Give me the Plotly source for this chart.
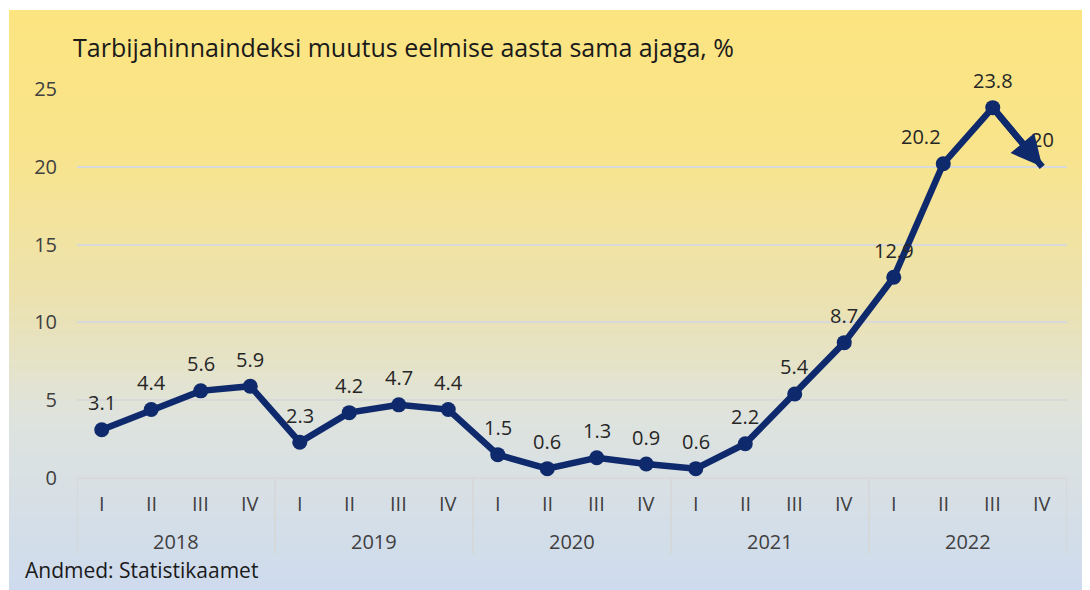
import plotly.graph_objects as go

years = ["2018", "2019", "2020", "2021", "2022"]
quarters = ["I", "II", "III", "IV"]
values = [3.1, 4.4, 5.6, 5.9, 2.3, 4.2, 4.7, 4.4, 1.5, 0.6, 1.3, 0.9,
          0.6, 2.2, 5.4, 8.7, 12.9, 20.2, 23.8, 20]
labels = ["3.1", "4.4", "5.6", "5.9", "2.3", "4.2", "4.7", "4.4", "1.5", "0.6",
          "1.3", "0.9", "0.6", "2.2", "5.4", "8.7", "12.9", "20.2", "23.8", "20"]
y_ticks = [0, 5, 10, 15, 20, 25]

x_cat = [f"{y} {q}" for y in years for q in quarters]
x_q = [q for _ in years for q in quarters]

OFF = 8  # page body margin in the viewer
W, H = 1090 - OFF, 590 - OFF
# plot area in reference (window) pixels
L, R, T, B = 77, 1067, 89, 478
NAVY = "#0F2A6C"
FONT = "Open Sans"
TXT = "#262626"

def px_x(p):  # window pixel -> paper x
    return (p - L) / (R - L)

def px_y(p):  # window pixel -> paper y
    return (B - p) / (B - T)

fig = go.Figure()
n = len(values)
fig.add_trace(go.Scatter(
    x=x_cat, y=values, mode="lines+markers",
    line=dict(color=NAVY, width=6.5),
    marker=dict(color=NAVY, size=[15] * (n - 1) + [0], opacity=1, line=dict(width=0)),
    hoverinfo="skip", showlegend=False, cliponaxis=False,
))

# background gradient
stops = [(10, (252, 228, 128)), (150, (249, 228, 140)), (300, (236, 226, 176)),
         (420, (222, 227, 222)), (590, (206, 219, 238))]

def col_at(p):
    for (p0, c0), (p1, c1) in zip(stops[:-1], stops[1:]):
        if p0 <= p <= p1:
            t = (p - p0) / (p1 - p0)
            return "rgb(%d,%d,%d)" % tuple(round(a + (b - a) * t) for a, b in zip(c0, c1))
    return "rgb(%d,%d,%d)" % stops[-1][1]

shapes = []
step = 5
p = 10
while p < 590:
    shapes.append(dict(type="rect", xref="paper", yref="paper", layer="below",
                       x0=px_x(9), x1=px_x(1095), y0=px_y(min(p + step + 1, 600)), y1=px_y(p),
                       fillcolor=col_at(p + step / 2), line=dict(width=0)))
    p += step

# category dividers (at year boundaries)
for k in range(len(years) + 1):
    xb = k * len(quarters) - 0.5
    shapes.append(dict(type="line", xref="x", yref="paper", x0=xb, x1=xb,
                       y0=0, y1=px_y(554), line=dict(color="#D6D6D6", width=1.5)))

annotations = []
shifts = {17: -22}
for i in range(n):
    annotations.append(dict(x=i, y=values[i], xref="x", yref="y", text=labels[i],
                            showarrow=False, yshift=27, xshift=shifts.get(i, 0),
                            font=dict(family=FONT, size=20, color=TXT)))
annotations.append(dict(x=n - 1, y=values[-1], ax=n - 2, ay=values[-2], xref="x", yref="y",
                        axref="x", ayref="y", text="", showarrow=True, arrowhead=2,
                        arrowsize=0.95, arrowwidth=6.5, arrowcolor=NAVY, standoff=0))
# quarter labels and year labels
for i, q in enumerate(x_q):
    annotations.append(dict(x=i, y=px_y(503), xref="x", yref="paper", text=q, showarrow=False,
                            yanchor="middle", font=dict(family=FONT, size=20, color="#404040")))
for k, yr in enumerate(years):
    annotations.append(dict(x=k * len(quarters) + (len(quarters) - 1) / 2, y=px_y(541),
                            xref="x", yref="paper", text=yr, showarrow=False,
                            yanchor="middle", font=dict(family=FONT, size=20, color="#404040")))
annotations.append(dict(x=px_x(23), y=px_y(570), xref="paper", yref="paper",
                        text="Andmed: Statistikaamet", showarrow=False,
                        xanchor="left", yanchor="middle",
                        font=dict(family=FONT, size=21, color="#1a1a1a")))

fig.update_layout(
    width=W, height=H,
    margin=dict(l=L - OFF, r=W - (R - OFF), t=T - OFF, b=H - (B - OFF), autoexpand=False),
    paper_bgcolor="white", plot_bgcolor="rgba(0,0,0,0)",
    shapes=shapes, annotations=annotations,
    title=dict(text="Tarbijahinnaindeksi muutus eelmise aasta sama ajaga, %",
               x=(73 - OFF) / W, xanchor="left", y=1 - (48 - OFF) / H, yanchor="middle",
               font=dict(family=FONT, size=25, color="#1a1a1a")),
    xaxis=dict(type="category", categoryorder="array", categoryarray=x_cat,
               range=[-0.5, n - 0.5], showgrid=False, showline=False, zeroline=False,
               showticklabels=False, ticks="", fixedrange=True),
    yaxis=dict(range=[0, 25], tickvals=y_ticks, showgrid=True, gridcolor="#D9D9D9",
               gridwidth=1.5, zeroline=True, zerolinecolor="#D9D9D9", zerolinewidth=1.5,
               tickfont=dict(family=FONT, size=20, color="#404040"),
               ticklabelstandoff=19, fixedrange=True),
    font=dict(family=FONT),
)

fig.write_html("out.html")
